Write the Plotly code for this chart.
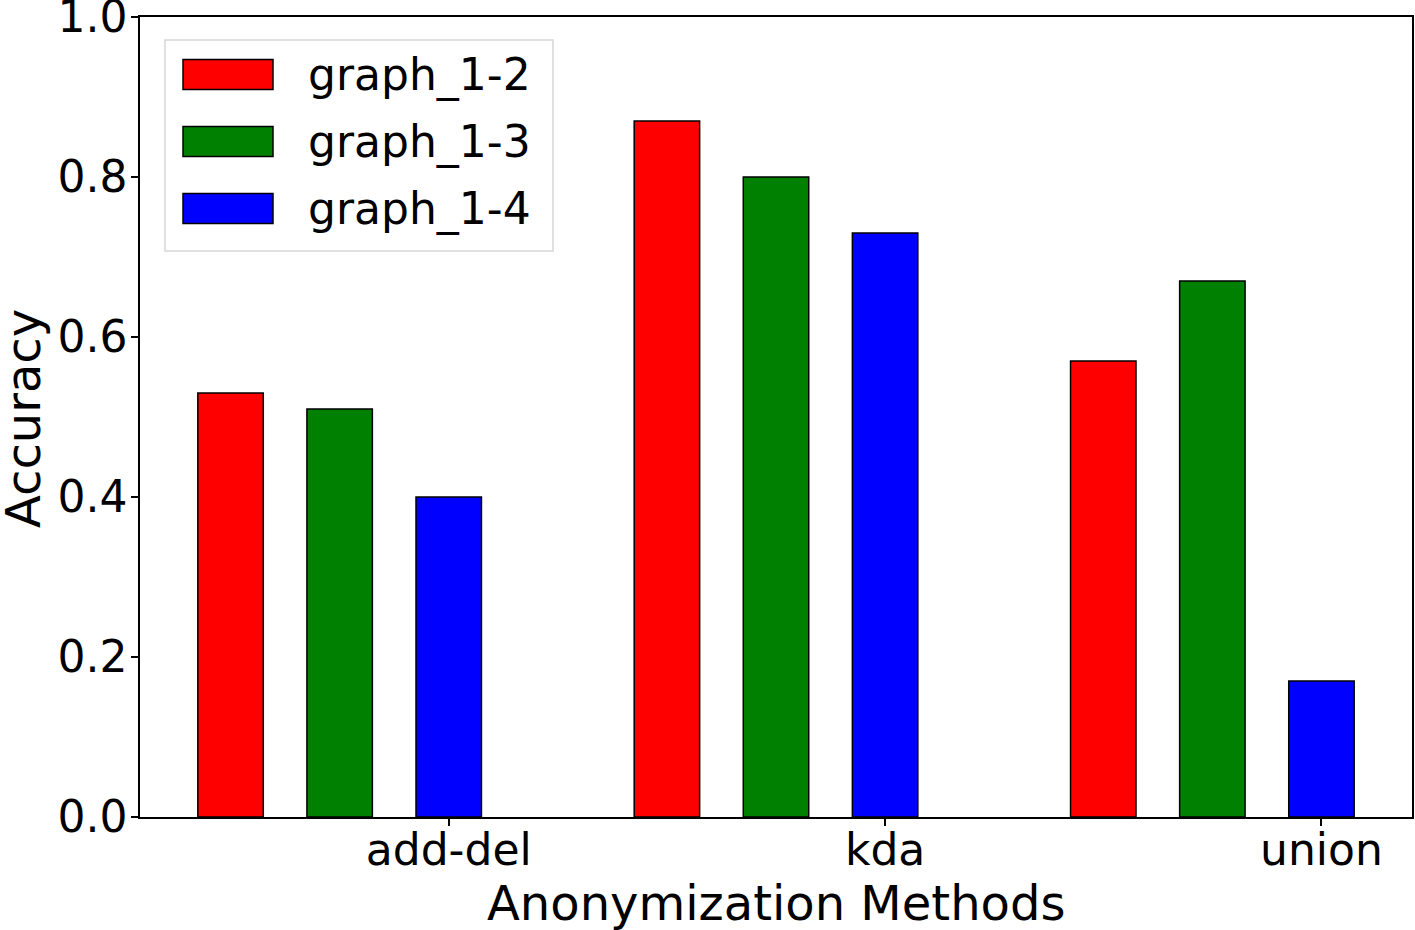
import plotly.graph_objects as go

methods = ["add-del", "kda", "union"]
series_names = ["graph_1-2", "graph_1-3", "graph_1-4"]
series_colors = ["#ff0000", "#008000", "#0000ff"]
graph_1_2 = [0.53, 0.87, 0.57]
graph_1_3 = [0.51, 0.80, 0.67]
graph_1_4 = [0.40, 0.73, 0.17]
series_values = [graph_1_2, graph_1_3, graph_1_4]
y_ticks = [0.0, 0.2, 0.4, 0.6, 0.8, 1.0]
x_title = "Anonymization Methods"
y_title = "Accuracy"

bar_width = 0.15
bar_step = 0.25
FONT = "DejaVu Sans"

fig = go.Figure()
for k, (name, color, vals) in enumerate(zip(series_names, series_colors, series_values)):
    xs = [i + k * bar_step for i in range(len(methods))]
    fig.add_trace(go.Bar(
        x=xs, y=vals, width=bar_width, name=name,
        marker=dict(color=color, line=dict(color="black", width=1.5)),
        showlegend=False,
    ))

W, H = 1415, 930
ml, mr, mt, mb = 140, 3, 17, 113
pw, ph = W - ml - mr, H - mt - mb


def px(sx):
    return (sx - ml) / pw


def py(sy):
    return 1 - (sy - mt) / ph


fig.add_shape(type="rect", xref="paper", yref="paper",
              x0=px(165), x1=px(553), y0=py(251), y1=py(40),
              line=dict(color="#d6d6d6", width=1.5), fillcolor="rgba(255,255,255,0.8)",
              layer="above")
for k, (name, color) in enumerate(zip(series_names, series_colors)):
    cy = 74.5 + 67 * k
    fig.add_shape(type="rect", xref="paper", yref="paper",
                  x0=px(183), x1=px(273), y0=py(cy + 15), y1=py(cy - 15),
                  line=dict(color="black", width=1.5), fillcolor=color, layer="above")
    fig.add_annotation(xref="paper", yref="paper", x=px(306), y=py(cy),
                       text=name, showarrow=False, xanchor="left", yanchor="middle",
                       font=dict(family=FONT, size=44, color="black"))

fig.add_annotation(xref="paper", yref="paper", x=px(776), y=py(903),
                   text=x_title, showarrow=False, xanchor="center", yanchor="middle",
                   font=dict(family=FONT, size=48, color="black"))
fig.add_annotation(xref="paper", yref="paper", x=px(23), y=py(419),
                   text=y_title, showarrow=False, xanchor="center", yanchor="middle",
                   textangle=-90,
                   font=dict(family=FONT, size=48, color="black"))

fig.update_layout(
    width=W, height=H,
    margin=dict(l=ml, r=mr, t=mt, b=mb),
    plot_bgcolor="white", paper_bgcolor="white",
    barmode="overlay",
    font=dict(family=FONT, color="black"),
    xaxis=dict(
        range=[-0.2075, 2.7075],
        tickvals=[i + 2 * bar_step for i in range(len(methods))],
        ticktext=methods,
        ticks="outside", ticklen=7, tickwidth=1.5, tickcolor="black",
        showline=True, linecolor="black", linewidth=1.5, mirror=True,
        showgrid=False, zeroline=False,
        tickfont=dict(family=FONT, size=44),
        ticklabelstandoff=-14,
        ticklabeloverflow="allow",
        automargin=False,
    ),
    yaxis=dict(
        range=[0, 1.0],
        tickvals=y_ticks,
        ticktext=[f"{v:.1f}" for v in y_ticks],
        ticks="outside", ticklen=7, tickwidth=1.5, tickcolor="black",
        showline=True, linecolor="black", linewidth=1.5, mirror=True,
        showgrid=False, zeroline=False,
        tickfont=dict(family=FONT, size=44),
        ticklabelstandoff=-5,
        ticklabeloverflow="allow",
        automargin=False,
    ),
)

fig.write_html("out.html", config={"displayModeBar": False},
               post_script="document.body.style.margin='0';")
